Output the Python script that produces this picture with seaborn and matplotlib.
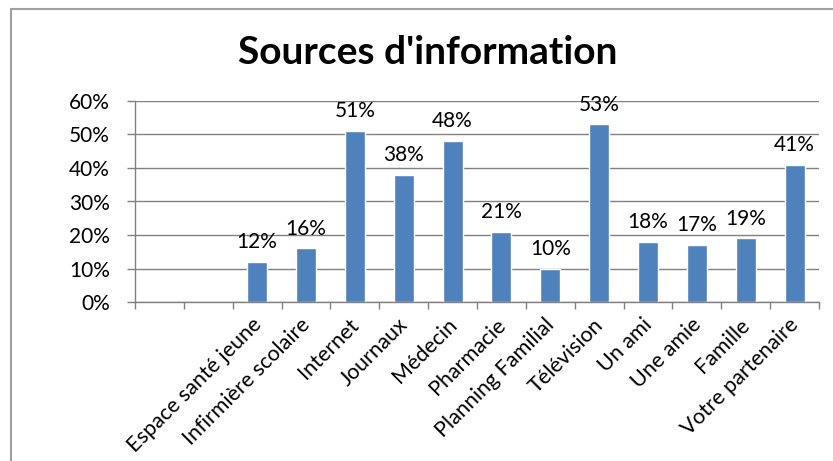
import matplotlib
matplotlib.use("Agg")
import matplotlib.pyplot as plt
import seaborn as sns
import pandas as pd
from matplotlib.ticker import PercentFormatter, MultipleLocator
from matplotlib.lines import Line2D
from matplotlib.transforms import ScaledTranslation

categories = ["", " ", "Espace santé jeune", "Infirmière scolaire", "Internet", "Journaux",
              "Médecin", "Pharmacie", "Planning Familial", "Télévision", "Un ami",
              "Une amie", "Famille", "Votre partenaire"]
label_cats = categories[2:]
values = [12, 16, 51, 38, 48, 21, 10, 53, 18, 17, 19, 41]
title = "Sources d'information"

sns.set_theme(style="white")
plt.rcParams['font.family'] = ['Lato', 'DejaVu Sans']
plt.rcParams['text.color'] = 'black'
plt.rcParams['xtick.color'] = 'black'
plt.rcParams['ytick.color'] = 'black'

fig = plt.figure(figsize=(8.33, 4.61), dpi=100)
ax = fig.add_axes([135/833, 1-302/461, (819-135)/833, (302-101)/461])

df = pd.DataFrame({"cat": label_cats, "val": values})
sns.barplot(data=df, x="cat", y="val", order=categories, color="#4F81BD",
            saturation=1, width=0.41, ax=ax)

ax.set_ylim(0, 60)
ax.set_xlim(-0.5, len(categories) - 0.5)
ax.yaxis.set_major_locator(MultipleLocator(10))
ax.yaxis.set_major_formatter(PercentFormatter(decimals=0))
ax.grid(axis="y", color="#808080", linewidth=1)
ax.set_axisbelow(True)
ax.set_xlabel("")
ax.set_ylabel("")

for s in ["top", "right"]:
    ax.spines[s].set_visible(False)
for s in ["left", "bottom"]:
    ax.spines[s].set_color("#808080")
    ax.spines[s].set_linewidth(1)

ax.set_xticks([i for i in range(len(categories))])
ax.set_xticklabels(categories, rotation=45, ha="right", rotation_mode="anchor", fontsize=15.5)
ax.tick_params(axis="x", length=0, pad=9)
offset = ScaledTranslation(-0.06, 0, fig.dpi_scale_trans)
for lbl in ax.get_xticklabels():
    lbl.set_transform(lbl.get_transform() + offset)
ax.set_xticks([i - 0.5 for i in range(len(categories) + 1)], minor=True)
ax.tick_params(axis="x", which="minor", length=5, color="#808080", width=1, direction="out", bottom=True)
ax.tick_params(axis="y", length=6, color="#808080", labelcolor="black", width=1, labelsize=15,
               direction="out", left=True, pad=12)

for c in ax.containers:
    ax.bar_label(c, labels=[f"{v}%" for v in values], padding=7, fontsize=15, color="black")

fig.suptitle(title, x=428/833, y=1-52/461, va="center", fontsize=28, fontweight="bold", color="black")

fig.add_artist(Line2D([11/833, 11/833], [0, 1-9/461], color="#A0A0A0", linewidth=1.5, transform=fig.transFigure))
fig.add_artist(Line2D([11/833, 1], [1-9/461, 1-9/461], color="#A0A0A0", linewidth=1.5, transform=fig.transFigure))

fig.savefig("out.png", dpi=100)
